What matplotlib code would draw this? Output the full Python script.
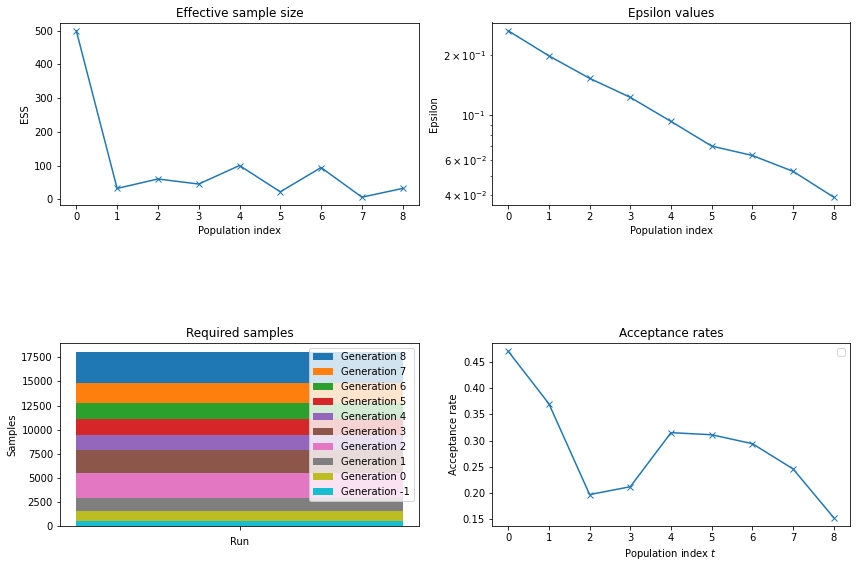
import matplotlib
matplotlib.use("Agg")
import matplotlib.pyplot as plt
import numpy as np

populations = [0, 1, 2, 3, 4, 5, 6, 7, 8]
ess = [500, 32, 60, 45, 100, 22, 94, 6, 32]
epsilon = [0.264, 0.198, 0.153, 0.123, 0.0933, 0.0703, 0.0631, 0.0526, 0.0391]
acceptance = [0.470, 0.370, 0.197, 0.212, 0.315, 0.311, 0.294, 0.246, 0.153]
gen_labels = ["Generation -1", "Generation 0", "Generation 1", "Generation 2",
              "Generation 3", "Generation 4", "Generation 5", "Generation 6",
              "Generation 7", "Generation 8"]
gen_samples = [520, 1040, 1385, 2600, 2390, 1525, 1663, 1663, 2010, 3290]
colors = ["#17becf", "#bcbd22", "#7f7f7f", "#e377c2", "#8c564b",
          "#9467bd", "#d62728", "#2ca02c", "#ff7f0e", "#1f77b4"]

W, H = 856, 568
fig = plt.figure(figsize=(W / 72, H / 72), dpi=72)

def box(l, r, t, b):
    return [l / W, 1 - b / H, (r - l) / W, (b - t) / H]

ax1 = fig.add_axes(box(60, 419, 22.5, 205.5))
ax2 = fig.add_axes(box(492, 850, 22.5, 205.5))
ax3 = fig.add_axes(box(60, 419, 343, 526))
ax4 = fig.add_axes(box(492, 850, 343, 526))

ax1.plot(populations, ess, "x-")
ax1.set_title("Effective sample size")
ax1.set_xlabel("Population index")
ax1.set_ylabel("ESS")

ax2.plot(populations, epsilon, "x-")
ax2.set_yscale("log")
ax2.set_title("Epsilon values")
ax2.set_xlabel("Population index")
ax2.set_ylabel("Epsilon")

bottom = 0
handles = []
for lab, val, c in zip(gen_labels, gen_samples, colors):
    b = ax3.bar([0], [val], bottom=bottom, color=c, label=lab)
    handles.append(b)
    bottom += val
ax3.legend(handles[::-1], gen_labels[::-1], loc="upper right")
ax3.set_xticks([0])
ax3.set_xticklabels([""])
ax3.set_xlabel("Run")
ax3.set_title("Required samples")
ax3.set_ylabel("Samples")

ax4.plot(populations, acceptance, "x-")
ax4.set_title("Acceptance rates")
ax4.set_xlabel("Population index $t$")
ax4.set_ylabel("Acceptance rate")
ax4.legend(loc="upper right")

fig.savefig("out.png", dpi=72)
